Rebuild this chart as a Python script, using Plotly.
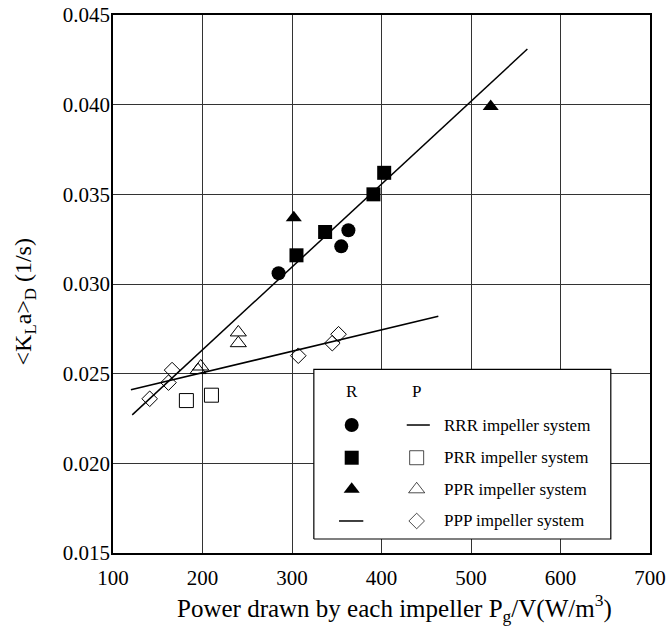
import plotly.graph_objects as go

# ---- data ----
rrr_x = [285, 355, 363]
rrr_y = [0.0306, 0.0321, 0.0330]
prr_x = [305, 337, 391, 403]
prr_y = [0.0316, 0.0329, 0.0350, 0.0362]
ppr_x = [302, 522]
ppr_y = [0.0337, 0.0399]

p_prr_x = [182, 210]
p_prr_y = [0.0235, 0.0238]
p_ppr_x = [195, 198, 240, 240]
p_ppr_y = [0.0252, 0.0254, 0.0267, 0.0273]
p_ppp_x = [141, 162, 166, 307, 345, 352]
p_ppp_y = [0.0236, 0.0245, 0.0252, 0.0260, 0.0267, 0.0272]

fitR_x = [121.5, 563]
fitR_y = [0.0227, 0.0431]
fitP_x = [120, 463.5]
fitP_y = [0.0241, 0.0282]

x_ticks = [100, 200, 300, 400, 500, 600, 700]
y_ticks = [0.015, 0.020, 0.025, 0.030, 0.035, 0.040, 0.045]

legend_labels = ["RRR impeller system", "PRR impeller system",
                 "PPR impeller system", "PPP impeller system"]

FONT = "Liberation Serif, Times New Roman, serif"
BLACK = "#000000"

fig = go.Figure()

# fitted lines
fig.add_trace(go.Scatter(x=fitR_x, y=fitR_y, mode="lines",
                         line=dict(color=BLACK, width=1.5), showlegend=False))
fig.add_trace(go.Scatter(x=fitP_x, y=fitP_y, mode="lines",
                         line=dict(color=BLACK, width=1.5), showlegend=False))

# filled markers (R)
fig.add_trace(go.Scatter(x=rrr_x, y=rrr_y, mode="markers",
                         marker=dict(symbol="circle", size=14, color=BLACK), showlegend=False))
fig.add_trace(go.Scatter(x=prr_x, y=prr_y, mode="markers",
                         marker=dict(symbol="square", size=14, color=BLACK), showlegend=False))
fig.add_trace(go.Scatter(x=ppr_x, y=ppr_y, mode="markers",
                         marker=dict(symbol="triangle-up", size=14, color=BLACK), showlegend=False))

# open markers (P)
open_line = dict(color=BLACK, width=1)
fig.add_trace(go.Scatter(x=p_prr_x, y=p_prr_y, mode="markers",
                         marker=dict(symbol="square-open", size=14, color=BLACK, line=open_line),
                         showlegend=False))
fig.add_trace(go.Scatter(x=p_ppr_x, y=p_ppr_y, mode="markers",
                         marker=dict(symbol="triangle-up-open", size=14, color=BLACK, line=open_line),
                         showlegend=False))
fig.add_trace(go.Scatter(x=p_ppp_x, y=p_ppp_y, mode="markers",
                         marker=dict(symbol="diamond-open", size=12, color=BLACK, line=open_line),
                         showlegend=False))

# ---- custom legend on an overlay axis (0..1 = plot area) ----
bx0, bx1, by0, by1 = 0.374, 0.927, 0.026, 0.3414
fig.add_trace(go.Scatter(x=[bx0, bx1, bx1, bx0, bx0], y=[by0, by0, by1, by1, by0],
                         mode="lines", fill="toself", fillcolor="white",
                         line=dict(color=BLACK, width=1.2),
                         xaxis="x2", yaxis="y2", showlegend=False, hoverinfo="skip"))
rows = [0.2379, 0.1771, 0.1184, 0.0595]
colR, colP, colT = 0.4445, 0.5655, 0.6135
fig.add_trace(go.Scatter(x=[colR, colR, colR], y=rows[:3], mode="markers",
                         marker=dict(symbol=["circle", "square", "triangle-up"], size=14, color=BLACK),
                         xaxis="x2", yaxis="y2", showlegend=False, hoverinfo="skip"))
fig.add_trace(go.Scatter(x=[colP, colP, colP], y=rows[1:], mode="markers",
                         marker=dict(symbol=["square-open", "triangle-up-open", "diamond-open"],
                                     size=[14, 14, 12], color=BLACK, line=open_line),
                         xaxis="x2", yaxis="y2", showlegend=False, hoverinfo="skip"))
fig.add_trace(go.Scatter(x=[0.4209, 0.4661], y=[rows[3], rows[3]], mode="lines",
                         line=dict(color=BLACK, width=1.5),
                         xaxis="x2", yaxis="y2", showlegend=False, hoverinfo="skip"))
fig.add_trace(go.Scatter(x=[0.547, 0.590], y=[rows[0], rows[0]], mode="lines",
                         line=dict(color=BLACK, width=1.5),
                         xaxis="x2", yaxis="y2", showlegend=False, hoverinfo="skip"))

annotations = []
for cx, t in [(colR, "R"), (colP, "P")]:
    annotations.append(dict(x=cx, y=0.3006, xref="x2", yref="y2", text=t, showarrow=False,
                            font=dict(family=FONT, size=17, color=BLACK)))
for ry, t in zip(rows, legend_labels):
    annotations.append(dict(x=colT, y=ry, xref="x2", yref="y2", text=t, showarrow=False,
                            xanchor="left", font=dict(family=FONT, size=17, color=BLACK)))

# axis titles
annotations.append(dict(x=0.524, y=-0.102, xref="paper", yref="paper",
                        text="Power drawn by each impeller P<sub>g</sub>/V(W/m<sup>3</sup>)",
                        showarrow=False, xanchor="center", yanchor="middle",
                        font=dict(family=FONT, size=25, color=BLACK)))
annotations.append(dict(x=-0.163, y=0.4665, xref="paper", yref="paper",
                        text="&lt;K<sub>L</sub>a&gt;<sub>D</sub> (1/s)", textangle=-90,
                        showarrow=False, xanchor="center", yanchor="middle",
                        font=dict(family=FONT, size=24, color=BLACK)))

axis_common = dict(showline=True, linecolor=BLACK, linewidth=1.5, mirror=True,
                   showgrid=True, gridcolor="#333333", gridwidth=1, zeroline=False,
                   ticks="", ticklabeloverflow="allow", automargin=False,
                   tickfont=dict(family=FONT, size=21, color=BLACK))

fig.update_layout(
    width=667, height=628,
    margin=dict(l=113, r=17, t=15, b=75, autoexpand=False),
    font=dict(family=FONT, color=BLACK),
    paper_bgcolor="white", plot_bgcolor="white",
    xaxis=dict(range=[100, 700], tickvals=x_ticks, ticklabelstandoff=5, **axis_common),
    yaxis=dict(range=[0.015, 0.045], tickvals=y_ticks, tickformat=".3f",
               ticklabelstandoff=-3, **axis_common),
    xaxis2=dict(range=[0, 1], overlaying="x", visible=False, fixedrange=True),
    yaxis2=dict(range=[0, 1], overlaying="y", visible=False, fixedrange=True),
    annotations=annotations,
    showlegend=False,
)

fig.write_html("out.html", config={"displayModeBar": False},
               post_script="document.body.style.margin='0';document.body.style.overflow='hidden';")
